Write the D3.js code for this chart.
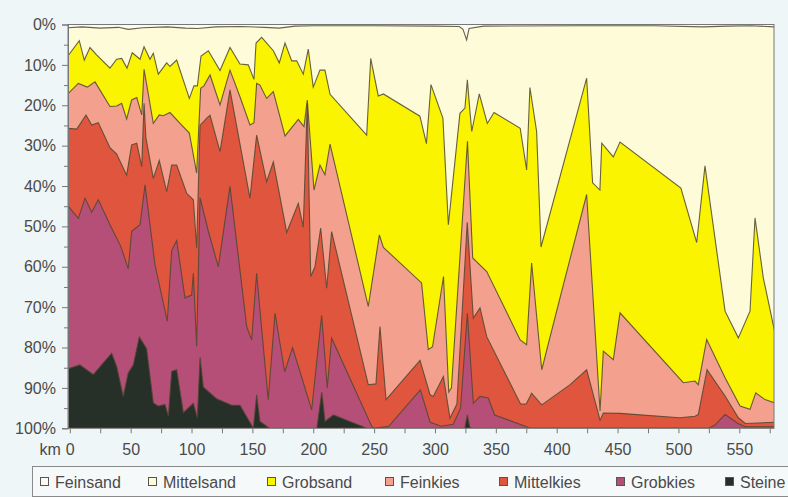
<!DOCTYPE html>
<html>
<head>
<meta charset="utf-8">
<script src="https://cdn.jsdelivr.net/npm/d3@7"></script>
<style>
  html, body { margin: 0; padding: 0; background: #eff6f8; }
  svg { display: block; font-family: "Liberation Sans", Arial, sans-serif; }
</style>
</head>
<body>
<svg id="chart" width="788" height="497"></svg>
<script>
// Kornfraktionen, von fein nach grob
const fractions = ["Feinsand", "Mittelsand", "Grobsand", "Feinkies", "Mittelkies", "Grobkies", "Steine"];
const fractionColors = ["#fbfbf1", "#fdfbd8", "#faf400", "#f3a08f", "#e0553d", "#b54f78", "#263029"];

// Flusskilometer-Achse
const kmTicks = [0, 50, 100, 150, 200, 250, 300, 350, 400, 450, 500, 550];
const percentTicks = [0, 10, 20, 30, 40, 50, 60, 70, 80, 90, 100];

// Summenlinien je Fraktion: [km, Anteil aller feineren Fraktionen in %]
const feinsandTop = [[-2, 0], [579, 0]];
const mittelsandTop = [[-2, 0.8], [10, 0.6], [25, 0.9], [40, 0.7], [48, 1.2], [60, 0.8], [80, 0.6], [95, 0.9],
  [105, 1.0], [120, 0.6], [140, 0.5], [160, 0.7], [172, 0.9], [185, 0.4], [200, 0.3], [250, 0.3], [300, 0.4],
  [320, 0.5], [323, 1.2], [326, 3.8], [328, 1.0], [340, 0.4], [420, 0.3], [480, 0.3], [520, 0.6], [540, 0.4],
  [560, 0.3], [579, 0.6]];
const grobsandTop = [[-2, 8], [7.8, 4], [11.9, 8.8], [16.6, 5.7], [22, 7.5], [33, 10.8], [38.5, 8.6], [42.6, 8.4],
  [47, 10.8], [51.3, 7], [57.7, 8.6], [61, 5.5], [65.9, 8.6], [68.6, 7.1], [72.7, 12.3], [79.6, 9.5], [82.3, 10.4],
  [87.8, 8.8], [98.2, 18.3], [102, 15.2], [104.8, 15.2], [107.8, 7.8], [113.8, 6.5], [123.4, 11.4], [131.6, 5.7],
  [139.8, 9.8], [146.6, 10], [151.3, 13.6], [153, 4.6], [157.6, 3.2], [167.2, 6.5], [172.1, 9.5], [176.8, 4.6],
  [182.3, 9], [186.4, 9], [191.8, 12.3], [195.9, 6.1], [200, 15.5], [205.5, 11.3], [209.6, 11.3], [213.8, 17.3],
  [243.9, 27.4], [247.2, 8.4], [253.4, 17.7], [257.6, 17.2], [287.6, 22.7], [293, 29.5], [296.7, 14.9],
  [306.5, 23.2], [311, 49.6], [320.5, 22], [324.6, 20.7], [326.6, 13.7], [328.5, 20.7], [330.2, 26.5],
  [336.4, 17.2], [343, 24.5], [348.5, 21.8], [370, 25.7], [375.3, 36], [378, 15.6], [383.5, 26.5], [387.1, 55.1],
  [424.6, 13.3], [429.5, 39.2], [435.5, 41], [437, 29.4], [446.5, 32.8], [452, 29.1], [502, 40.5], [515, 54],
  [521.8, 35], [538.3, 71], [549.2, 77.6], [558.8, 71], [562.9, 47.9], [569.7, 62.7], [579, 76]];
const feinkiesTop = [[-2, 17.3], [7, 14.6], [14.4, 15.5], [20.7, 14.2], [33, 20.3], [38.5, 20.2], [42.6, 19.5],
  [46.7, 23.4], [50.8, 18.7], [55, 18.1], [59.1, 22.4], [61, 11.1], [68.6, 24.5], [73.5, 22.4], [76.8, 22.6],
  [82.3, 21.8], [91.9, 24.9], [98.2, 26.9], [101, 31.5], [104.2, 36.8], [107.5, 15.8], [110.2, 15.2], [115.2, 12.5],
  [123.4, 19.9], [131.6, 11.3], [139.8, 17.9], [148, 24.9], [151.3, 24.3], [153.5, 14.6], [156.2, 15], [161.7, 18.3],
  [167.2, 16.6], [176.8, 27.6], [187.7, 23.5], [192.4, 25.3], [195.1, 18.7], [200.6, 41], [205.5, 34.8],
  [209.6, 37.2], [213.8, 29.6], [245.2, 69.8], [254.3, 52.1], [257.6, 55.2], [289, 64], [294.5, 80.5], [298, 79.8],
  [307, 62.4], [311.3, 91], [313.5, 90], [326.7, 28.9], [331, 57.8], [342.5, 61.2], [370, 78.1], [375.3, 79.3],
  [379.4, 59.1], [387.7, 85.5], [402.7, 67.7], [424.6, 42.1], [435.6, 95.7], [438.3, 80.9], [446.5, 83],
  [452, 71.4], [504, 88.7], [513.6, 88.3], [516.3, 89.2], [523.2, 78], [538.3, 87.5], [550.6, 94.5], [558.8, 95.3],
  [563.5, 91.2], [571.1, 92.9], [579, 93.7]];
const mittelkiesTop = [[-2, 25.7], [5.7, 25.9], [13.3, 22.4], [18, 24.9], [23.4, 24.3], [33, 30.5], [38.5, 32.1],
  [46.7, 37.3], [50.8, 29.8], [55, 29.4], [59.1, 35.2], [61, 19.5], [62.5, 28], [68.6, 38.1], [73.5, 33.7],
  [79.6, 41.4], [83.7, 34.8], [87.8, 34.8], [96, 41.8], [101.5, 43.4], [104.2, 55.3], [107, 25], [112.5, 23.2],
  [115.2, 22.5], [123.4, 31.5], [131.6, 16.2], [148, 43], [153.5, 27.4], [161.7, 38.9], [167.2, 34], [178.2, 51.5],
  [187.7, 44.3], [191.8, 50.2], [195.1, 19.5], [197.9, 62.4], [201.4, 60], [206.1, 50.4], [211, 65.3],
  [215.1, 51.3], [245.2, 89.2], [251.5, 89], [254.8, 74.8], [259.8, 92.9], [287.7, 83.2], [296, 91.7],
  [298.6, 92.1], [306.9, 87.2], [312.3, 97.5], [318, 94], [326.5, 49], [331.5, 72.7], [337, 70.2], [342.5, 77.3],
  [370.3, 94], [375, 94], [379.4, 91.3], [387.7, 94.2], [411, 89.2], [424.6, 85.5], [435.6, 98], [438.3, 96.2],
  [452, 96.3], [501, 97.4], [513.6, 97], [516.3, 96.6], [523.5, 85.5], [538.3, 92], [549.2, 97.4], [555, 98.8],
  [579, 98.5]];
const grobkiesTop = [[-2, 44.7], [7, 48], [12.5, 43], [18, 46.5], [23.4, 43.4], [33, 49.6], [42, 55], [48, 60.5],
  [50.8, 51.2], [57.7, 49.6], [61.8, 39.7], [70, 59.5], [80.1, 73.5], [83.7, 56], [87.8, 53.5], [94.6, 67.7],
  [100.1, 67], [101.5, 61.6], [104.2, 79.7], [107, 42.9], [113.8, 51.2], [122, 60], [131.6, 40.1], [145.3, 74.8],
  [149.4, 78.1], [153.5, 61.6], [156.2, 70.7], [163, 92.9], [168.6, 71.5], [176.5, 86], [183, 80], [198.7, 95.4],
  [206.9, 72], [211.5, 90], [215.1, 77.7], [248, 99.5], [250, 100], [262, 99.5], [288, 90.5], [296, 98.5],
  [305, 99.5], [315, 99], [321, 95], [326.6, 71.5], [331.5, 93.8], [337, 92.1], [343.8, 92.5], [349, 96.7],
  [375.3, 99.6], [378, 100], [525, 100], [530, 99.2], [538.3, 96.6], [549, 98.8], [555, 99.6], [579, 99.6]];
const steineTop = [[-2, 85.1], [0.1, 85.1], [8.3, 84.3], [19.3, 86.7], [34.4, 81.4], [38.5, 84.7], [43.9, 92.1],
  [48, 86.3], [52.2, 84.3], [57.1, 77.4], [63.1, 80.3], [68.6, 93.7], [72.7, 94.5], [78.2, 94.1], [81, 97],
  [83.7, 85.9], [87.8, 85.5], [93.3, 96.1], [101.5, 93.8], [104.8, 97.4], [107, 82.4], [109.7, 89.8],
  [120.6, 92.7], [132.9, 94.3], [139.8, 94.3], [150.8, 100], [153.5, 91.7], [156.2, 98.3], [161.7, 99.5],
  [164, 100], [203, 100], [207, 91], [209.7, 98.3], [216.5, 96.7], [244, 100], [324.5, 100], [326.6, 96.7],
  [328.5, 99.7], [330, 100], [579, 100]];

const fractionTops = [feinsandTop, mittelsandTop, grobsandTop, feinkiesTop, mittelkiesTop, grobkiesTop, steineTop];

// Zeichenfläche
const svg = d3.select("#chart");
const plot = { left: 68, right: 774, top: 24.5, bottom: 428.3 };

const x = d3.scaleLinear().domain([0, 550]).range([69.8, 739.3]);
const y = d3.scaleLinear().domain([0, 100]).range([plot.top, plot.bottom]);

svg.append("defs").append("clipPath").attr("id", "plotClip")
  .append("rect")
  .attr("x", plot.left).attr("y", plot.top)
  .attr("width", plot.right - plot.left).attr("height", plot.bottom - plot.top);

const layers = svg.append("g").attr("clip-path", "url(#plotClip)");

const area = d3.area()
  .x(d => x(d[0]))
  .y0(y(100))
  .y1(d => y(d[1]));
const line = d3.line()
  .x(d => x(d[0]))
  .y(d => y(d[1]));

// Schichten von fein (oben) nach grob (unten) übereinander legen
fractionTops.forEach((top, i) => {
  layers.append("path")
    .datum(top)
    .attr("d", area)
    .attr("fill", fractionColors[i]);
  if (i > 0) {
    layers.append("path")
      .datum(top)
      .attr("d", line)
      .attr("fill", "none")
      .attr("stroke", "#4f4630")
      .attr("stroke-opacity", 0.85)
      .attr("stroke-width", 1.1)
      .attr("stroke-linejoin", "miter");
  }
});

// Rahmen der Diagrammfläche
svg.append("rect")
  .attr("x", plot.left).attr("y", plot.top)
  .attr("width", plot.right - plot.left).attr("height", plot.bottom - plot.top)
  .attr("fill", "none")
  .attr("stroke", "#777")
  .attr("stroke-width", 1);

const labelFont = "16px";

// y-Achse mit Haupt- und Zwischenstrichen
svg.append("g")
  .attr("transform", `translate(${plot.left},0)`)
  .call(d3.axisLeft(y).tickValues(percentTicks).tickSize(6).tickPadding(6).tickFormat(d => d + "%"));
svg.append("g")
  .attr("transform", `translate(${plot.left},0)`)
  .call(d3.axisLeft(y).tickValues(d3.range(5, 100, 10)).tickSize(4).tickFormat(""))
  .call(g => g.select(".domain").remove());

// x-Achse
svg.append("g")
  .attr("transform", `translate(0,${plot.bottom})`)
  .call(d3.axisBottom(x).tickValues(d3.range(0, 576, 25)).tickSize(5).tickPadding(10)
    .tickFormat(d => kmTicks.includes(d) ? d : ""))
  .call(g => g.select(".domain").remove());

svg.selectAll(".tick line").attr("stroke", "#777");
svg.selectAll(".domain").attr("stroke", "#777");
svg.selectAll(".tick text")
  .attr("fill", "#4a4a4a")
  .style("font-size", labelFont)
  .style("font-family", "'Liberation Sans', Arial, sans-serif");

svg.append("text")
  .attr("x", x(0) - 9).attr("y", plot.bottom + 27)
  .attr("text-anchor", "end")
  .attr("fill", "#4a4a4a")
  .style("font-size", labelFont)
  .text("km");

// Legende
const legend = svg.append("g");
legend.append("rect")
  .attr("x", 32.5).attr("y", 466.5)
  .attr("width", 780).attr("height", 30)
  .attr("fill", "#f6f9f9")
  .attr("stroke", "#8a8a8a");

const legendX = [40, 148, 267, 385, 499, 616, 725];
fractions.forEach((name, i) => {
  const g = legend.append("g").attr("transform", `translate(${legendX[i]},482)`);
  g.append("rect")
    .attr("x", 0.5).attr("y", -4.5)
    .attr("width", 8).attr("height", 8)
    .attr("fill", fractionColors[i])
    .attr("stroke", "#555");
  g.append("text")
    .attr("x", 15).attr("y", 5.8)
    .attr("fill", "#4a4a4a")
    .style("font-size", labelFont)
    .text(name);
});
</script>
</body>
</html>
